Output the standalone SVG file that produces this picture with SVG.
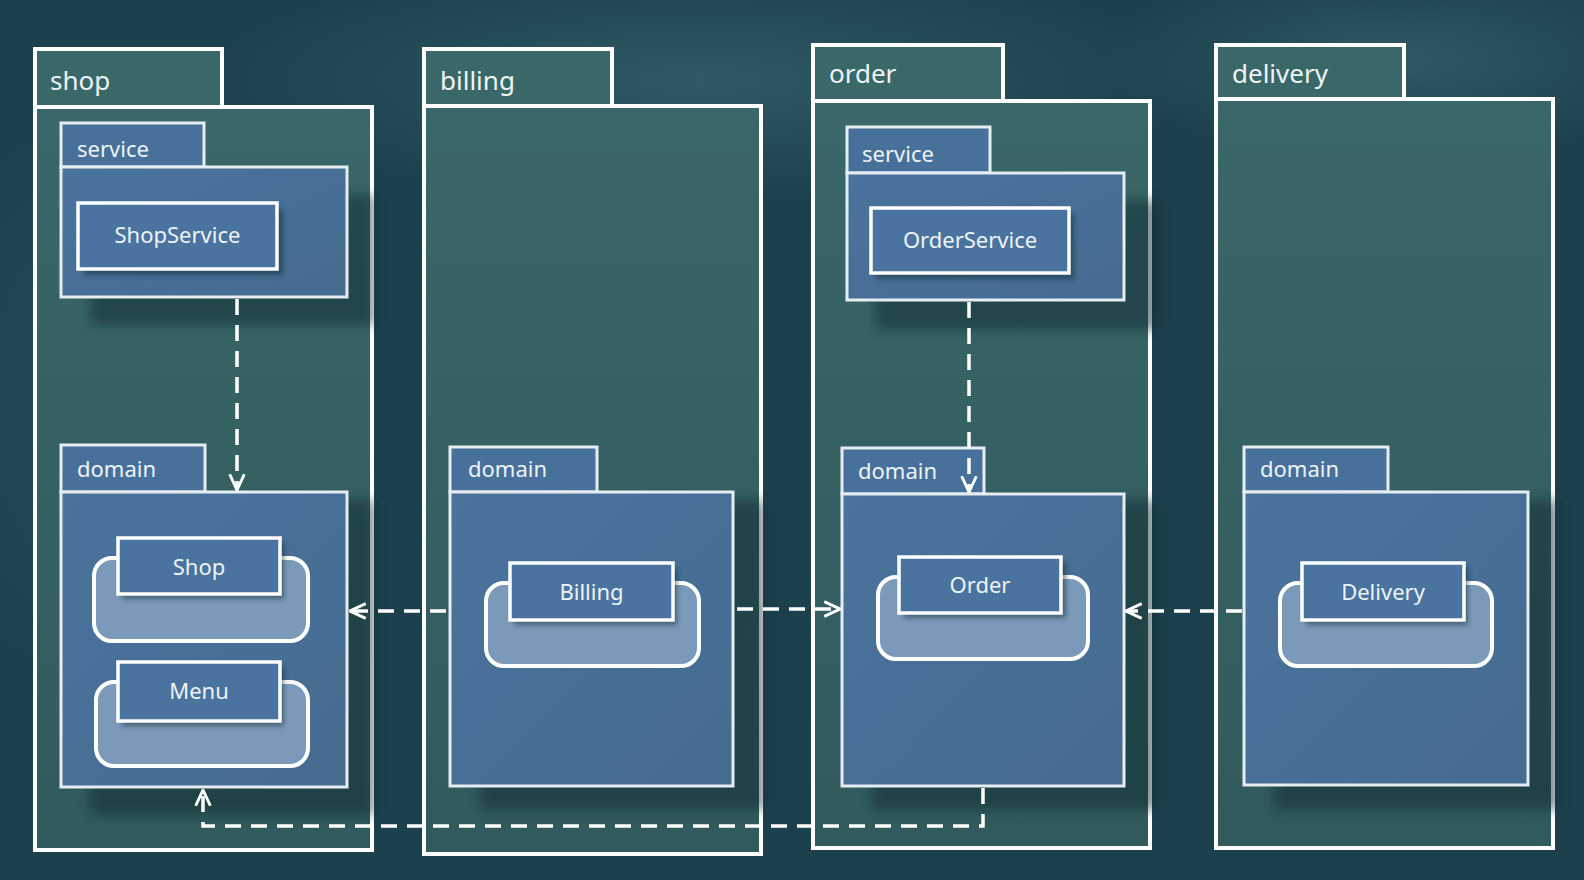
<svg xmlns="http://www.w3.org/2000/svg" width="1584" height="880" viewBox="0 0 1584 880">
<defs>
<style>
text{font-family:"Noto Sans","Open Sans","DejaVu Sans",sans-serif;fill:#eef3f6}
.pkgname{font-size:26px}
.subname{font-size:22px}
.cls{font-size:22px}
.outer{fill:url(#gOuter);stroke:#ffffff;stroke-width:4}
.outertab{fill:#3a6869;stroke:#ffffff;stroke-width:4}
.inner{fill:url(#gInner);stroke:#e6edf2;stroke-width:3}
.innertab{fill:#47709a;stroke:#e6edf2;stroke-width:3}
.clsbox{fill:#4a73a0;stroke:#ffffff;stroke-width:3.5}
.cont{fill:#7b9aba;stroke:#ffffff;stroke-width:4}
.shadow{fill:#0f2c33;opacity:0.5}
.dash{fill:none;stroke:#ffffff;stroke-width:3.5;stroke-dasharray:16 10}
</style>
<linearGradient id="gOuter" x1="0" y1="0" x2="0" y2="1">
<stop offset="0" stop-color="#3a6769"/>
<stop offset="1" stop-color="#315a5c"/>
</linearGradient>
<linearGradient id="gInner" x1="0" y1="0" x2="1" y2="1">
<stop offset="0" stop-color="#4a739d"/>
<stop offset="1" stop-color="#456b8f"/>
</linearGradient>
<radialGradient id="bgBlob" cx="0.5" cy="0.5" r="0.5">
<stop offset="0" stop-color="#37656d" stop-opacity="0.7"/>
<stop offset="1" stop-color="#37656d" stop-opacity="0"/>
</radialGradient>
<filter id="blur" x="-20%" y="-20%" width="140%" height="140%"><feGaussianBlur stdDeviation="6"/></filter>
<filter id="sblur" x="-10%" y="-10%" width="120%" height="120%"><feGaussianBlur stdDeviation="2.5"/></filter>
<marker id="arr" viewBox="0 0 16 16" refX="15" refY="8" markerWidth="18" markerHeight="18" markerUnits="userSpaceOnUse" orient="auto">
<path d="M1,1.5 L15,8 L1,14.5" fill="none" stroke="#ffffff" stroke-width="2.6"/>
</marker>
</defs>
<rect width="1584" height="880" fill="#1c414c"/>
<ellipse cx="700" cy="80" rx="500" ry="120" fill="url(#bgBlob)"/>
<ellipse cx="1400" cy="60" rx="300" ry="100" fill="url(#bgBlob)"/>
<ellipse cx="120" cy="400" rx="200" ry="300" fill="url(#bgBlob)" opacity="0.5"/>

<g id="pkg-shop">
<rect class="outertab" x="35" y="49" width="187" height="58"/>
<rect class="outer" x="35" y="107" width="337" height="743"/>
<text class="pkgname" x="50" y="90">shop</text>
<g id="shop-service">
<rect class="shadow" x="90" y="195" width="285" height="130" filter="url(#blur)"/>
<rect class="innertab" x="61" y="123" width="143" height="44"/>
<rect class="inner" x="61" y="167" width="286" height="130"/>
<text class="subname" x="77" y="157">service</text>
<g id="ShopService">
<rect class="shadow" x="84" y="209" width="199" height="66" filter="url(#sblur)"/>
<rect class="clsbox" x="78" y="203" width="199" height="66"/>
<text class="cls" x="177.5" y="243" text-anchor="middle">ShopService</text>
</g>
</g>
<g id="shop-domain">
<rect class="shadow" x="90" y="500" width="285" height="315" filter="url(#blur)"/>
<rect class="innertab" x="61" y="445" width="144" height="47"/>
<rect class="inner" x="61" y="492" width="286" height="295"/>
<text class="subname" x="77" y="477">domain</text>
<g id="Shop">
<rect class="cont" x="94" y="558" width="214" height="83" rx="18"/>
<rect class="shadow" x="122" y="543" width="162" height="56" filter="url(#sblur)"/>
<rect class="clsbox" x="118" y="538" width="162" height="56"/>
<text class="cls" x="199" y="575" text-anchor="middle">Shop</text>
</g>
<g id="Menu">
<rect class="cont" x="96" y="682" width="212" height="84" rx="18"/>
<rect class="shadow" x="122" y="667" width="162" height="59" filter="url(#sblur)"/>
<rect class="clsbox" x="118" y="662" width="162" height="59"/>
<text class="cls" x="199" y="699" text-anchor="middle">Menu</text>
</g>
</g>
</g>

<g id="pkg-billing">
<rect class="outertab" x="424" y="49" width="188" height="57"/>
<rect class="outer" x="424" y="106" width="337" height="748"/>
<text class="pkgname" x="440" y="90">billing</text>
<g id="billing-domain">
<rect class="shadow" x="480" y="500" width="285" height="310" filter="url(#blur)"/>
<rect class="innertab" x="450" y="447" width="147" height="45"/>
<rect class="inner" x="450" y="492" width="283" height="294"/>
<text class="subname" x="468" y="477">domain</text>
<g id="Billing">
<rect class="cont" x="486" y="583" width="213" height="83" rx="18"/>
<rect class="shadow" x="514" y="568" width="163" height="57" filter="url(#sblur)"/>
<rect class="clsbox" x="510" y="563" width="163" height="57"/>
<text class="cls" x="591.5" y="600" text-anchor="middle">Billing</text>
</g>
</g>
</g>

<g id="pkg-order">
<rect class="outertab" x="813" y="45" width="190" height="56"/>
<rect class="outer" x="813" y="101" width="337" height="747"/>
<text class="pkgname" x="829" y="83">order</text>
<g id="order-service">
<rect class="shadow" x="875" y="200" width="285" height="130" filter="url(#blur)"/>
<rect class="innertab" x="847" y="127" width="143" height="46"/>
<rect class="inner" x="847" y="173" width="277" height="127"/>
<text class="subname" x="862" y="162">service</text>
<g id="OrderService">
<rect class="shadow" x="876" y="214" width="198" height="65" filter="url(#sblur)"/>
<rect class="clsbox" x="871" y="208" width="198" height="65"/>
<text class="cls" x="970" y="248" text-anchor="middle">OrderService</text>
</g>
</g>
<g id="order-domain">
<rect class="shadow" x="872" y="500" width="285" height="310" filter="url(#blur)"/>
<rect class="innertab" x="842" y="448" width="142" height="46"/>
<rect class="inner" x="842" y="494" width="282" height="292"/>
<text class="subname" x="858" y="479">domain</text>
<g id="Order">
<rect class="cont" x="878" y="577" width="210" height="82" rx="18"/>
<rect class="shadow" x="904" y="562" width="162" height="56" filter="url(#sblur)"/>
<rect class="clsbox" x="899" y="557" width="162" height="56"/>
<text class="cls" x="980" y="593" text-anchor="middle">Order</text>
</g>
</g>
</g>

<g id="pkg-delivery">
<rect class="outertab" x="1216" y="45" width="188" height="54"/>
<rect class="outer" x="1216" y="99" width="337" height="749"/>
<text class="pkgname" x="1232" y="83">delivery</text>
<g id="delivery-domain">
<rect class="shadow" x="1274" y="500" width="285" height="310" filter="url(#blur)"/>
<rect class="innertab" x="1244" y="447" width="144" height="45"/>
<rect class="inner" x="1244" y="492" width="284" height="293"/>
<text class="subname" x="1260" y="477">domain</text>
<g id="Delivery">
<rect class="cont" x="1280" y="583" width="212" height="83" rx="18"/>
<rect class="shadow" x="1306" y="568" width="162" height="57" filter="url(#sblur)"/>
<rect class="clsbox" x="1302" y="563" width="162" height="57"/>
<text class="cls" x="1383" y="600" text-anchor="middle">Delivery</text>
</g>
</g>
</g>

<g id="connectors">
<path class="dash" d="M237,299 L237,490" marker-end="url(#arr)"/>
<path class="dash" d="M969,302 L969,492" marker-end="url(#arr)"/>
<path class="dash" d="M446,611 L350,611" marker-end="url(#arr)"/>
<path class="dash" d="M737,609 L840,609" marker-end="url(#arr)"/>
<path class="dash" d="M1242,611 L1126,611" marker-end="url(#arr)"/>
<path class="dash" d="M983,788 L983,826 L203,826 L203,790" marker-end="url(#arr)"/>
</g>
</svg>
